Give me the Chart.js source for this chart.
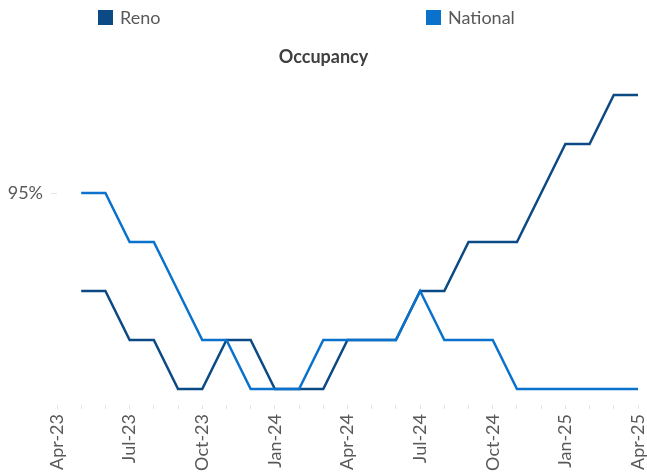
<!DOCTYPE html>
<html>
<head>
<meta charset="utf-8">
<script src="https://cdn.jsdelivr.net/npm/chart.js@4/dist/chart.umd.min.js"></script>
<style>
  html, body { margin: 0; padding: 0; background: #fff; }
  #wrap { width: 647px; height: 475px; }
</style>
</head>
<body>
<div id="wrap"><canvas id="c" width="647" height="475"></canvas></div>
<script>
// ---- data ----
const months = ['Apr-23','May-23','Jun-23','Jul-23','Aug-23','Sep-23','Oct-23','Nov-23','Dec-23',
                'Jan-24','Feb-24','Mar-24','Apr-24','May-24','Jun-24','Jul-24','Aug-24','Sep-24',
                'Oct-24','Nov-24','Dec-24','Jan-25','Feb-25','Mar-25','Apr-25'];
const reno     = [null, 94, 94, 93.5, 93.5, 93, 93, 93.5, 93.5, 93, 93, 93, 93.5, 93.5, 93.5, 94, 94, 94.5, 94.5, 94.5, 95, 95.5, 95.5, 96, 96];
const national = [null, 95, 95, 94.5, 94.5, 94, 93.5, 93.5, 93, 93, 93, 93.5, 93.5, 93.5, 93.5, 94, 93.5, 93.5, 93.5, 93, 93, 93, 93, 93, 93];
const yTicks = [95];
const chartTitle = 'Occupancy';

const FONT = 'Lato, "Open Sans", sans-serif';
const RENO_COLOR = '#0B4A84';
const NAT_COLOR = '#0A72CC';
const TEXT = '#595959';

const customLegend = {
  id: 'customLegend',
  afterDraw(chart, args, opts) {
    const ctx = chart.ctx;
    ctx.save();
    ctx.font = '18px ' + FONT;
    ctx.textBaseline = 'middle';
    ctx.textAlign = 'left';
    opts.items.forEach(it => {
      const ds = chart.data.datasets[it.dataset];
      ctx.fillStyle = ds.borderColor;
      ctx.fillRect(it.x, opts.y - 7.5, 15, 15);
      ctx.fillStyle = TEXT;
      ctx.fillText(ds.label, it.x + 22, opts.y + 1);
    });
    ctx.restore();
  }
};

new Chart(document.getElementById('c'), {
  type: 'line',
  data: {
    labels: months,
    datasets: [
      { label: 'Reno', data: reno, borderColor: RENO_COLOR, backgroundColor: RENO_COLOR,
        borderWidth: 2.5, pointRadius: 0, tension: 0, order: 1 },
      { label: 'National', data: national, borderColor: NAT_COLOR, backgroundColor: NAT_COLOR,
        borderWidth: 2.5, pointRadius: 0, tension: 0, order: 0 }
    ]
  },
  options: {
    responsive: false,
    animation: false,
    layout: { padding: { left: 0, right: 0, top: 0, bottom: 0 } },
    plugins: {
      legend: { display: false },
      tooltip: { enabled: false },
      title: {
        display: true, text: chartTitle, color: '#404040',
        font: { family: FONT, size: 18, weight: 'bold' },
        padding: { top: 46, bottom: 8 }
      },
      customLegend: { y: 17.5, items: [ { dataset: 0, x: 98 }, { dataset: 1, x: 426 } ] }
    },
    scales: {
      x: {
        type: 'category',
        offset: false,
        border: { display: false },
        grid: { drawOnChartArea: false, drawTicks: true, tickLength: 4, color: '#e3e3e3' },
        afterFit: s => { s.height = 70; s.paddingRight = 9; s.paddingLeft = 0; },
        ticks: {
          autoSkip: false, maxRotation: 90, minRotation: 90, padding: 5,
          color: TEXT, font: { family: FONT, size: 18 },
          callback: function(v, i) { return i % 3 === 0 ? months[i] : ''; }
        }
      },
      y: {
        min: 92.837, max: 96.198,
        border: { display: false },
        grid: { drawOnChartArea: false, drawTicks: true, tickLength: 6, color: '#e3e3e3' },
        afterBuildTicks: axis => { axis.ticks = yTicks.map(v => ({ value: v })); },
        afterFit: scale => { scale.width = 57; scale.paddingTop = 0; scale.paddingBottom = 0; },
        ticks: {
          padding: 8, color: TEXT, font: { family: FONT, size: 18 },
          callback: v => v + '%'
        }
      }
    }
  },
  plugins: [customLegend]
});
</script>
</body>
</html>
